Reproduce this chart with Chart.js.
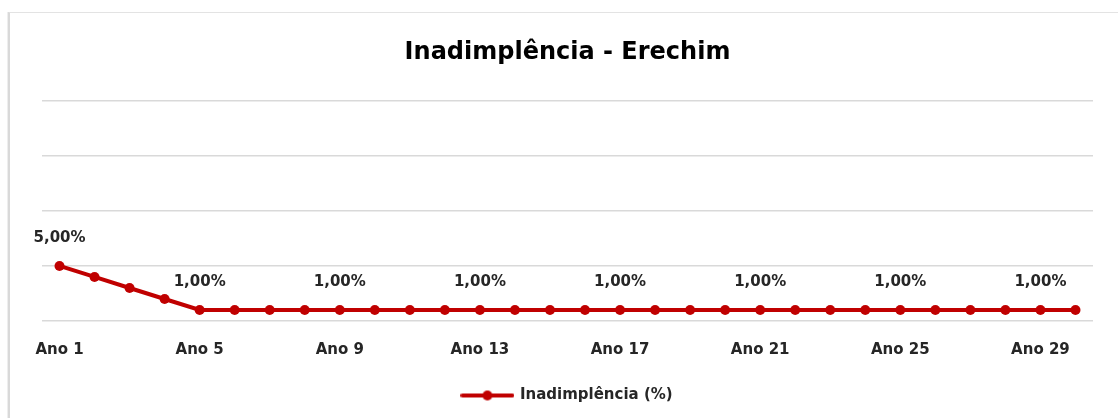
<!DOCTYPE html>
<html>
<head>
<meta charset="utf-8">
<script src="https://cdn.jsdelivr.net/npm/chart.js@4"></script>
<style>
  html, body { margin: 0; padding: 0; background: #ffffff; }
  #moldura {
    position: absolute; left: 8px; top: 12px; width: 1120px; height: 420px;
    border-left: 2px solid #d9d9d9; border-top: 1px solid #e3e3e3;
    box-shadow: -1px 0 0 #eeeeee;
  }
  #grafico-wrap { position: absolute; left: 0; top: 0; width: 1118px; height: 418px; }
</style>
</head>
<body>
<div id="moldura"></div>
<div id="grafico-wrap"><canvas id="grafico-inadimplencia"></canvas></div>
<script>
var fonte = '"DejaVu Sans", sans-serif';
var vermelho = '#c00000';

// anos do financiamento
var anos = [];
for (var a = 1; a <= 30; a++) { anos.push('Ano ' + a); }

// inadimplencia (%) por ano
var inadimplencia = [5, 4, 3, 2, 1, 1, 1, 1, 1, 1, 1, 1, 1, 1, 1, 1, 1, 1, 1, 1, 1, 1, 1, 1, 1, 1, 1, 1, 1, 1];

// indices que recebem rotulo de dado
var rotulados = [0, 4, 8, 12, 16, 20, 24, 28];

// icone da legenda: linha com bolinha
var icone = document.createElement('canvas');
icone.width = 54; icone.height = 12;
var ic = icone.getContext('2d');
ic.strokeStyle = vermelho; ic.lineWidth = 4; ic.lineCap = 'round';
ic.beginPath(); ic.moveTo(2, 6); ic.lineTo(52, 6); ic.stroke();
ic.fillStyle = vermelho;
ic.beginPath(); ic.arc(27, 6, 5, 0, Math.PI * 2); ic.fill();

function formataPct(v) {
    return v.toFixed(2).replace('.', ',') + '%';
}

// desenha os rotulos acima dos pontos
var rotulosPlugin = {
    id: 'rotulos',
    afterDatasetsDraw: function (chart) {
        var ctx = chart.ctx;
        var meta = chart.getDatasetMeta(0);
        ctx.save();
        ctx.font = 'bold 15px ' + fonte;
        ctx.fillStyle = '#262626';
        ctx.textAlign = 'center';
        ctx.textBaseline = 'bottom';
        for (var i = 0; i < rotulados.length; i++) {
            var p = meta.data[rotulados[i]];
            ctx.fillText(formataPct(inadimplencia[rotulados[i]]), p.x, p.y - 20);
        }
        ctx.restore();
    }
};

var ctx = document.getElementById('grafico-inadimplencia').getContext('2d');
var chart = new Chart(ctx, {
    type: 'line',
    data: {
        labels: anos,
        datasets: [
            {
                label: 'Inadimplência (%)',
                data: inadimplencia,
                borderColor: vermelho,
                backgroundColor: vermelho,
                borderWidth: 4,
                pointRadius: 5,
                pointHoverRadius: 5,
                pointBackgroundColor: vermelho,
                pointBorderWidth: 0,
                pointStyle: 'circle',
                fill: false,
                tension: 0
            }
        ]
    },
    options: {
        responsive: true,
        maintainAspectRatio: false,
        animation: false,
        layout: { padding: { left: 42, right: 25, top: 16, bottom: 5 } },
        plugins: {
            title: {
                display: true,
                text: 'Inadimplência - Erechim',
                color: '#000000',
                font: { family: fonte, size: 24, weight: 'bold' },
                padding: { top: 22, bottom: 34 }
            },
            legend: {
                position: 'bottom',
                labels: {
                    usePointStyle: true,
                    pointStyle: icone,
                    pointStyleWidth: 50,
                    color: '#262626',
                    font: { family: fonte, size: 15, weight: 'bold' },
                    padding: 17
                }
            },
            tooltip: { enabled: false }
        },
        scales: {
            x: {
                offset: true,
                grid: { display: false },
                border: { display: false },
                ticks: {
                    autoSkip: false,
                    maxRotation: 0,
                    color: '#262626',
                    font: { family: fonte, size: 15, weight: 'bold' },
                    padding: 12,
                    callback: function (v, i) { return i % 4 === 0 ? anos[i] : ''; }
                }
            },
            y: {
                min: 0,
                max: 20,
                ticks: { stepSize: 5, display: false },
                border: { display: false },
                grid: { color: '#d9d9d9', lineWidth: 1.5, drawTicks: false }
            }
        }
    },
    plugins: [rotulosPlugin]
});
</script>
</body>
</html>
